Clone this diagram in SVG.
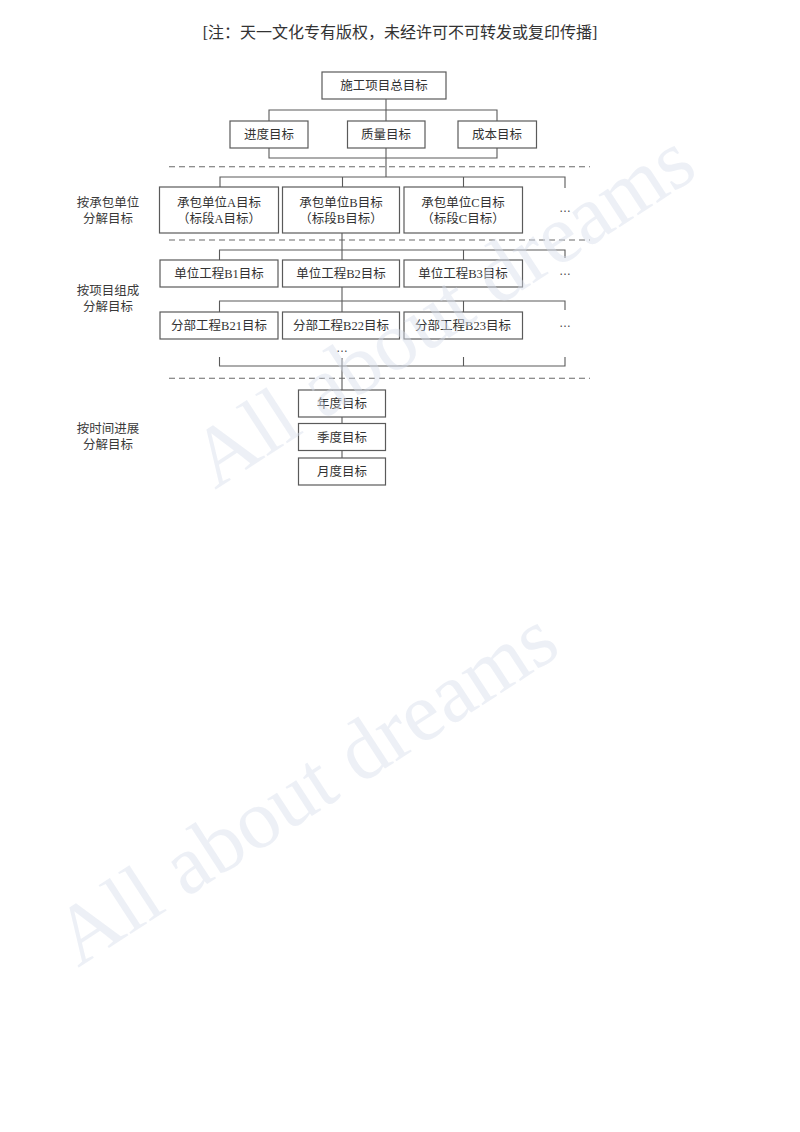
<svg xmlns="http://www.w3.org/2000/svg" width="800" height="1132" viewBox="0 0 800 1132">
<style>
.bg{fill:#ffffff}
.box{fill:#ffffff;stroke:#5a5a5a;stroke-width:1.2}
.ln{fill:none;stroke:#5a5a5a;stroke-width:1.1}
.dash{fill:none;stroke:#6a6a6a;stroke-width:1.1;stroke-dasharray:6 4}
.t{font-family:"Liberation Serif","Noto Sans CJK SC",serif;font-size:12.5px;fill:#333333;text-anchor:middle}
.lab{font-family:"Liberation Serif","Noto Sans CJK SC",serif;font-size:12.5px;fill:#3a3a3a;text-anchor:middle}
.title{font-family:"Liberation Serif","Noto Sans CJK SC",serif;font-size:16px;fill:#333333;text-anchor:middle}
.dots{font-family:"Liberation Sans",sans-serif;font-size:12px;fill:#444444;text-anchor:middle}
.wm{font-family:"Liberation Serif",serif;font-size:84px;fill:#d6deea;fill-opacity:0.45}
</style>
<rect class="bg" x="0" y="0" width="800" height="1132"/>
<text class="title" x="400" y="38">[注：天一文化专有版权，未经许可不可转发或复印传播]</text>

<g id="dividers">
<line class="dash" x1="169" y1="166.7" x2="590" y2="166.7"/>
<line class="dash" x1="169" y1="240" x2="590" y2="240"/>
<line class="dash" x1="169" y1="378.3" x2="590" y2="378.3"/>
</g>

<g id="connectors">
<path class="ln" d="M386,99 V177"/>
<path class="ln" d="M269,121 V110 H497 V121"/>
<path class="ln" d="M269,148 V158 H497 V148"/>
<path class="ln" d="M220,187 V177 H565 V188"/>
<path class="ln" d="M342.5,177 V187 M463.5,177 V187"/>
<path class="ln" d="M342,233 V260"/>
<path class="ln" d="M219.5,260 V250 H565 V258"/>
<path class="ln" d="M463.5,250 V260"/>
<path class="ln" d="M342,287 V312"/>
<path class="ln" d="M219.5,312 V301 H565 V310"/>
<path class="ln" d="M463.5,301 V312"/>
<path class="ln" d="M219.5,357 V366 H565 V357"/>
<path class="ln" d="M463.5,357 V366"/>
<path class="ln" d="M342,358 V390"/>
<path class="ln" d="M342,417 V423.5"/>
<path class="ln" d="M342,450.7 V458"/>
</g>

<g id="n-total"><rect class="box" x="322" y="72" width="124" height="27"/><text class="t" x="384" y="90">施工项目总目标</text></g>
<g id="n-schedule"><rect class="box" x="230" y="121" width="78" height="27"/><text class="t" x="269" y="139">进度目标</text></g>
<g id="n-quality"><rect class="box" x="347.5" y="121" width="77.5" height="27"/><text class="t" x="386" y="139">质量目标</text></g>
<g id="n-cost"><rect class="box" x="458" y="121" width="78.5" height="27"/><text class="t" x="497" y="139">成本目标</text></g>

<g id="lab-1"><text class="lab" x="108" y="207">按承包单位</text><text class="lab" x="108" y="223">分解目标</text></g>
<g id="n-A"><rect class="box" x="159.5" y="187" width="119" height="46"/><text class="t" x="219" y="206.5">承包单位A目标</text><text class="t" x="219" y="222.5">（标段A目标）</text></g>
<g id="n-B"><rect class="box" x="282.5" y="187" width="117" height="46"/><text class="t" x="341" y="206.5">承包单位B目标</text><text class="t" x="341" y="222.5">（标段B目标）</text></g>
<g id="n-C"><rect class="box" x="404" y="187" width="118.5" height="46"/><text class="t" x="463" y="206.5">承包单位C目标</text><text class="t" x="463" y="222.5">（标段C目标）</text></g>
<text class="dots" x="565" y="212">…</text>

<g id="lab-2"><text class="lab" x="108" y="294.5">按项目组成</text><text class="lab" x="108" y="310.5">分解目标</text></g>
<g id="n-B1"><rect class="box" x="160" y="260" width="118" height="27"/><text class="t" x="219" y="278">单位工程B1目标</text></g>
<g id="n-B2"><rect class="box" x="282.5" y="260" width="117" height="27"/><text class="t" x="341" y="278">单位工程B2目标</text></g>
<g id="n-B3"><rect class="box" x="404" y="260" width="118.5" height="27"/><text class="t" x="463" y="278">单位工程B3目标</text></g>
<text class="dots" x="565" y="275">…</text>

<g id="n-B21"><rect class="box" x="160" y="312" width="118" height="27"/><text class="t" x="219" y="330">分部工程B21目标</text></g>
<g id="n-B22"><rect class="box" x="282.5" y="312" width="117" height="27"/><text class="t" x="341" y="330">分部工程B22目标</text></g>
<g id="n-B23"><rect class="box" x="404" y="312" width="118.5" height="27"/><text class="t" x="463" y="330">分部工程B23目标</text></g>
<text class="dots" x="565" y="327">…</text>
<text class="dots" x="342" y="352">…</text>

<g id="lab-3"><text class="lab" x="108" y="432.5">按时间进展</text><text class="lab" x="108" y="449">分解目标</text></g>
<g id="n-year"><rect class="box" x="298.5" y="390" width="87" height="27"/><text class="t" x="342" y="408">年度目标</text></g>
<g id="n-quarter"><rect class="box" x="298.5" y="423.5" width="87" height="27"/><text class="t" x="342" y="441.5">季度目标</text></g>
<g id="n-month"><rect class="box" x="298.5" y="458" width="87" height="27"/><text class="t" x="342" y="476">月度目标</text></g>

<g id="watermarks">
<text class="wm" transform="translate(215,490) rotate(-33)">All about dreams</text>
<text class="wm" transform="translate(78,968) rotate(-33)">All about dreams</text>
</g>
</svg>
